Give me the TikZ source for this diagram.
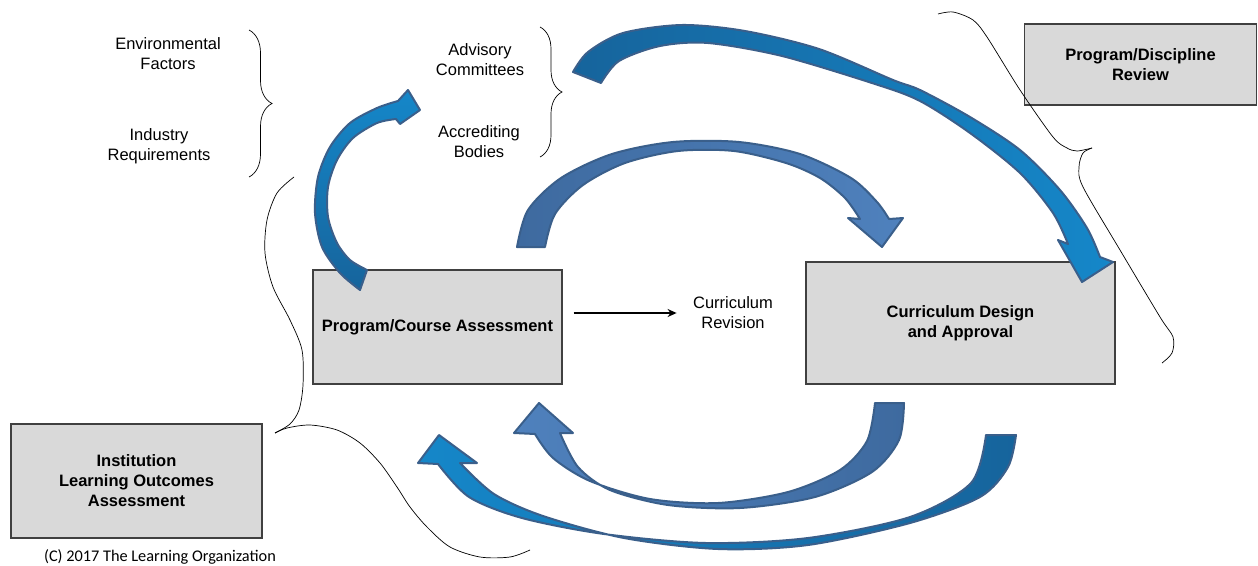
\documentclass[tikz,border=0pt]{standalone}
\usepackage{fontspec}
\setmainfont{Liberation Sans}
\newfontfamily\carlito{Carlito}
\usetikzlibrary{arrows.meta,decorations.pathreplacing}
\definecolor{boxgray}{HTML}{D9D9D9}
\definecolor{boxline}{HTML}{404040}
\definecolor{arrowline}{HTML}{3A5F8B}
\definecolor{deepblue}{HTML}{16649C}
\definecolor{brightblue}{HTML}{1587C9}
\definecolor{slateblue}{HTML}{3E6A9F}
\definecolor{softblue}{HTML}{4F81BD}
\tikzset{
    >={Stealth[length=9pt,width=8pt]},
    stagebox/.style={draw=boxline,fill=boxgray,line width=1.2pt,inner sep=0pt,
        align=center,font=\fontsize{16.5}{20}\selectfont\bfseries},
    infotext/.style={align=center,font=\fontsize{16.5}{20}\selectfont},
    bigarrow/.style={draw=arrowline,line width=2pt,line join=round},
    curly/.style={draw=black,line width=0.7pt}
}

\begin{document}
\begin{tikzpicture}[x=1pt,y=-1pt]
    \useasboundingbox (0,0) rectangle (1258,565);

    % Stages
    \node[stagebox,minimum width=249pt,minimum height=114pt] (assess) at (437.5,327) {Program/Course Assessment};
    \node[stagebox,minimum width=309pt,minimum height=122pt] (design) at (960.5,323) {Curriculum Design\\and Approval};
    \node[stagebox,minimum width=232pt,minimum height=81pt] (review) at (1140.5,64.5) {Program/Discipline\\Review};
    \node[stagebox,minimum width=251pt,minimum height=114pt] (inst) at (136.5,481) {Institution\\Learning Outcomes\\Assessment};

    % Inputs
    \node[infotext] (envf) at (168,54) {Environmental\\Factors};
    \node[infotext] (indr) at (159,146) {Industry\\Requirements};
    \node[infotext] (advc) at (480,60) {Advisory\\Committees};
    \node[infotext] (accb) at (479,142) {Accrediting\\Bodies};
    \node[infotext] (revision) at (733,313) {Curriculum\\Revision};

    \node[font=\carlito\fontsize{16.3}{18}\selectfont] (credit) at (160,557) {(C) 2017 The Learning Organization};

    \draw[->,line width=1.2pt,shorten <=11pt,shorten >=13pt] (revision.west -| assess.east) -- (revision.west);

    % Braces
    \draw[curly,decorate,decoration={brace,amplitude=23pt}] (249,30) -- (249,177);
    \draw[curly,decorate,decoration={brace,amplitude=22pt}] (540,27) -- (540,157);
    \draw[curly] plot[smooth] coordinates {(938,14) (953,12) (973,20) (987,37) (1020,90) (1053,137) (1067,148) (1077,151) (1092,148)};
    \draw[curly] plot[smooth] coordinates {(1092,148) (1083,153) (1079,167) (1083,187) (1120,250) (1160,317) (1173,337) (1172,353) (1162,363)};
    \draw[curly] plot[smooth] coordinates {(294,177) (277,193) (267,220) (265,253) (273,287) (290,320) (302,350) (303,385) (299,410) (290,424) (275,433)};
    \draw[curly] plot[smooth] coordinates {(275,433) (287,428) (310,425) (337,430) (360,443) (380,463) (397,487) (410,507) (427,527) (450,547) (480,557) (510,557) (530,550)};

    % Curved arrows
    \draw[bigarrow,top color=brightblue,bottom color=deepblue]
        plot[smooth] coordinates {(360,290) (340,273) (322,247) (315,213) (318,177) (330,147) (350,123) (377,108) (398,101)}
        -- (408,90) -- (420,110) -- (400,124)
        -- plot[smooth] coordinates {(396,119) (377,123) (353,138) (337,160) (328,187) (328,217) (337,243) (350,260) (367,270)} -- cycle;
    \draw[bigarrow,left color=slateblue,right color=softblue]
        plot[smooth] coordinates {(517,247) (528,210) (561,178) (612,154) (673,142) (739,142) (800,154) (851,178) (877,202) (889,219)}
        -- (903,218) -- (882,247) -- (848,218)
        -- plot[smooth] coordinates {(860,219) (845,198) (820,178) (786,163) (734,151) (678,151) (625,163) (583,185) (555,214) (545,247)} -- cycle;
    \draw[bigarrow,left color=deepblue,right color=brightblue]
        plot[smooth] coordinates {(573,72) (588,52) (623,33) (682,25) (745,31) (819,49) (893,80) (920,90) (970,117) (1020,150) (1060,190) (1087,228) (1100,257)}
        -- (1113,262) -- (1082,282) -- (1058,240)
        -- plot[smooth] coordinates {(1068,244) (1053,213) (1020,173) (970,133) (920,101) (875,84) (782,56) (708,43) (660,46) (619,61) (601,83)} -- cycle;
    \draw[bigarrow,left color=softblue,right color=slateblue]
        plot[smooth] coordinates {(904,403) (899,440) (872,472) (815,497) (740,508) (668,505) (610,490) (578,467) (560,433)}
        -- (573,433) -- (539,403) -- (514,433)
        -- plot[smooth] coordinates {(535,434) (553,458) (590,481) (650,499) (718,503) (788,492) (840,470) (867,441) (875,403)} -- cycle;
    \draw[bigarrow,left color=brightblue,right color=deepblue]
        plot[smooth] coordinates {(1016,435) (1008,467) (980,497) (910,523) (808,545) (718,549) (624,538) (543,516) (494,494) (460,463)}
        -- (477,463) -- (439,435) -- (418,463)
        -- plot[smooth] coordinates {(438,464) (469,497) (522,518) (604,534) (706,543) (808,538) (910,517) (971,483) (986,435)} -- cycle;
\end{tikzpicture}
\end{document}
